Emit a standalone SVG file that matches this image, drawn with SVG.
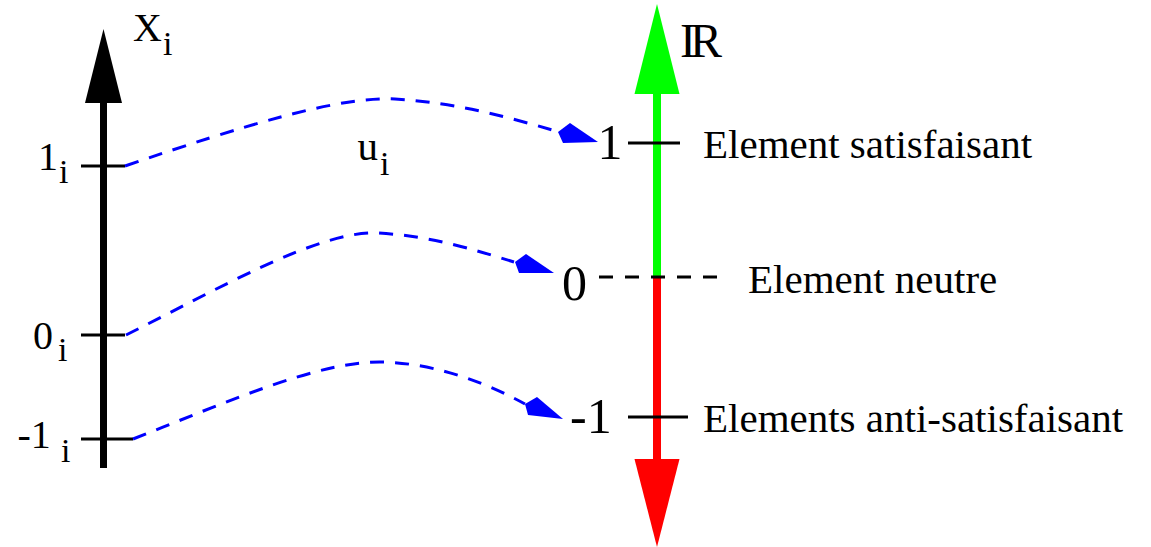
<svg xmlns="http://www.w3.org/2000/svg" width="1151" height="547" viewBox="0 0 1151 547">
<style>
text{font-family:"Liberation Serif","Times New Roman",serif;fill:#000}
.lbl{font-size:40px}
.sub{font-size:34px}
.big{font-size:50px}
.desc{font-size:41px}
.tick{stroke:#000;stroke-width:3;fill:none}
.curve{stroke:#0000ff;stroke-width:3;fill:none;stroke-dasharray:14 11}
.head{fill:#0000ff}
</style>
<rect width="1151" height="547" fill="#fff"/>
<g id="axis-x">
<line x1="103.5" y1="100" x2="103.5" y2="468" stroke="#000" stroke-width="7"/>
<polygon points="103.5,29 85,103 122,103" fill="#000"/>
<line class="tick" x1="81" y1="166" x2="125" y2="166"/>
<line class="tick" x1="81" y1="335" x2="125" y2="335"/>
<line class="tick" x1="81" y1="439" x2="133" y2="439"/>
<text class="lbl" x="133" y="41">X</text><text class="sub" x="163" y="55">i</text>
<text class="lbl" x="38" y="170">1</text><text class="sub" x="59" y="183">i</text>
<text class="lbl" x="33" y="349">0</text><text class="sub" x="58" y="361">i</text>
<text class="lbl" x="17.5" y="448">-1</text><text class="sub" x="61" y="462">i</text>
</g>
<g id="axis-r">
<line x1="657" y1="92" x2="657" y2="277" stroke="#00ff00" stroke-width="8"/>
<polygon points="657,4 634.5,94 679.5,94" fill="#00ff00"/>
<line x1="657" y1="277" x2="657" y2="461" stroke="#ff0000" stroke-width="8"/>
<polygon points="634.5,459 679.5,459 657,547" fill="#ff0000"/>
<line class="tick" x1="628" y1="143" x2="680" y2="143"/>
<line class="tick" x1="628" y1="417" x2="688" y2="417"/>
<line class="tick" x1="599" y1="277" x2="718" y2="277" stroke-dasharray="14 12"/>
<text x="680" y="57" style="font-size:48px;letter-spacing:-6px">IR</text>
<text class="big" x="597.5" y="159">1</text>
<text class="big" x="562" y="300">0</text>
<text class="big" x="570" y="433">-1</text>
</g>
<g id="desc">
<text class="desc" x="703" y="158">Element satisfaisant</text>
<text class="desc" x="748" y="293">Element neutre</text>
<text class="desc" x="703" y="432">Elements anti-satisfaisant</text>
</g>
<g id="label-u">
<text class="desc" x="357.5" y="160">u</text><text class="sub" x="380" y="175">i</text>
</g>
<g id="connectors">
<path class="curve" d="M125,166 C245,125 340,96 395,99 C460,103 510,118 556,131"/>
<polygon class="head" points="558,132 570,123 598,142 563,143"/>
<path class="curve" d="M126,335 C220,288 320,230 378,233 C432,236 475,250 514,262"/>
<polygon class="head" points="515,262 526,254 554,273 519,273"/>
<path class="curve" d="M133,439 C225,403 320,360 384,362 C440,364 490,385 525,404"/>
<polygon class="head" points="525,404 537,397 563,419 528,415"/>
</g>
</svg>
